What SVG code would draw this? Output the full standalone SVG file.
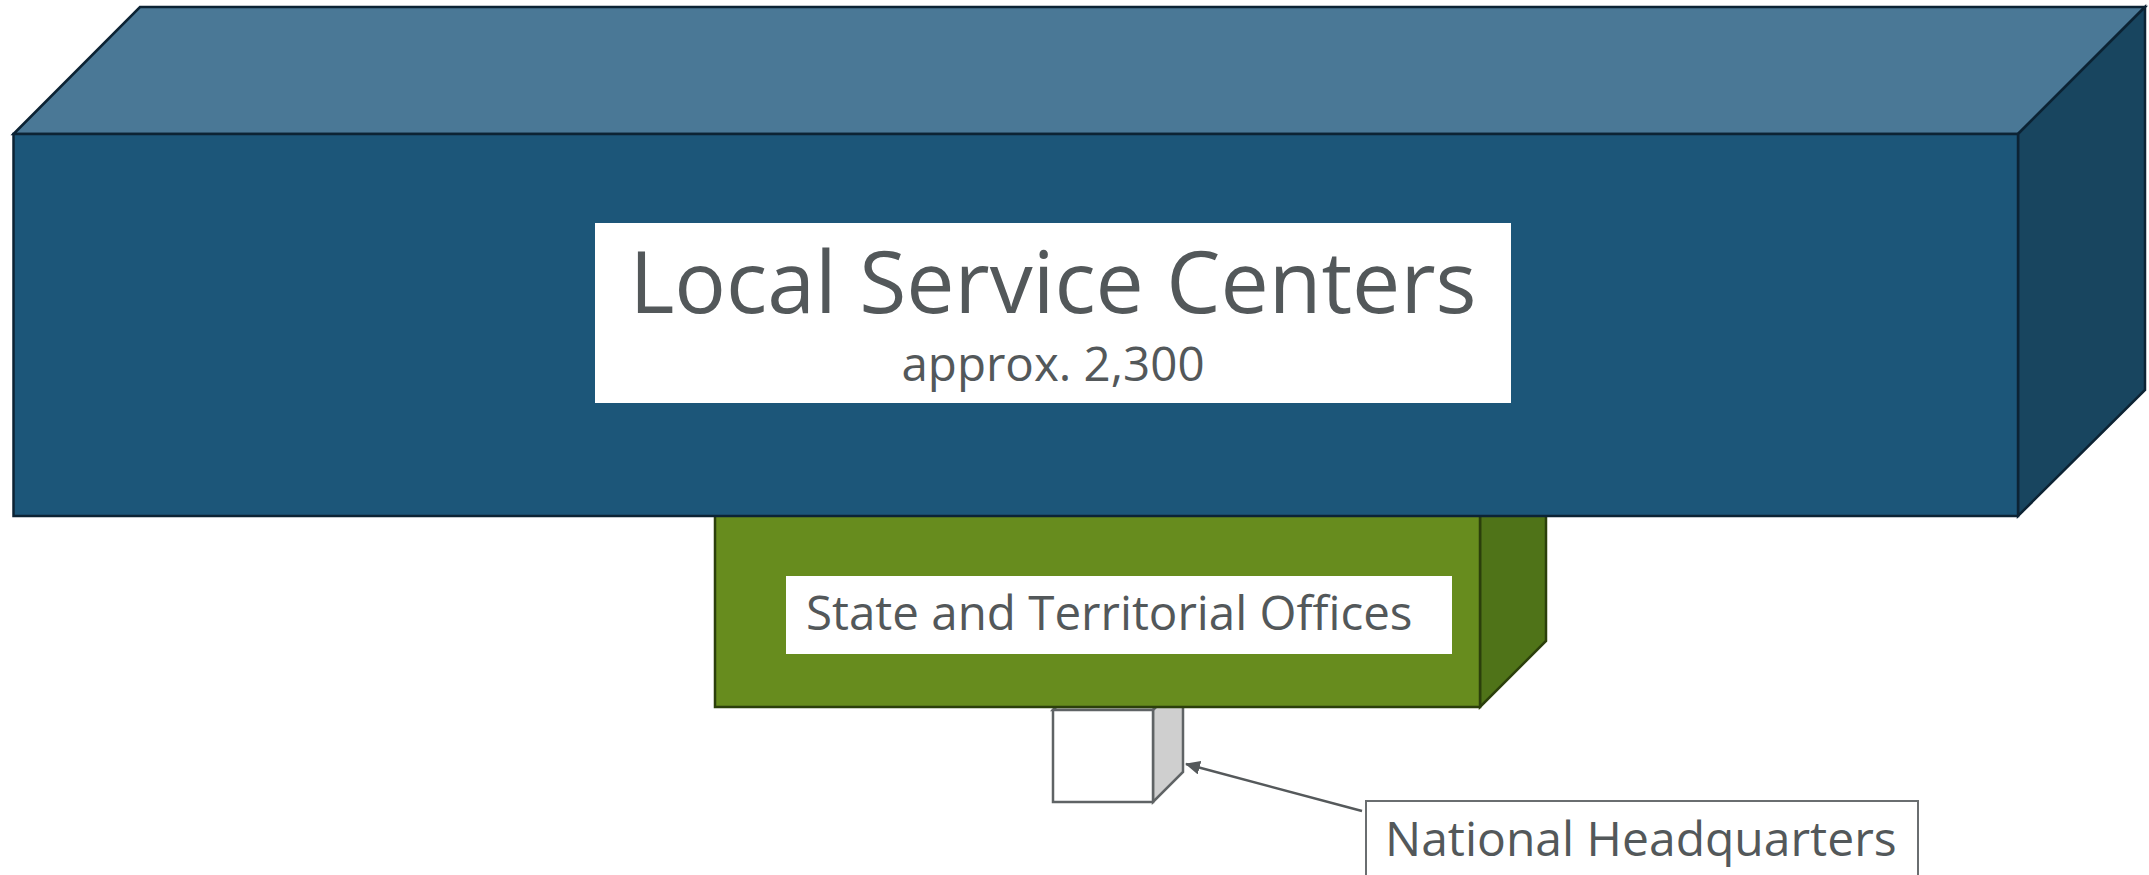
<svg xmlns="http://www.w3.org/2000/svg" width="2149" height="875" viewBox="0 0 2149 875">
  <style>
    .txt { font-family: "Open Sans", "Noto Sans", "Liberation Sans", sans-serif; fill: #53585a; }
    .blue { stroke: #0c2334; stroke-width: 2.5; stroke-linejoin: miter; }
    .green { stroke: #2b3f0b; stroke-width: 2.5; }
    .hq { stroke: #5f6365; stroke-width: 2.5; }
    .label { fill: #ffffff; stroke: none; }
    .conn { stroke: #55595b; stroke-width: 2.5; fill: none; }
  </style>
  <defs>
    <marker id="arrow" markerWidth="15" markerHeight="14" refX="14" refY="7" orient="auto" markerUnits="userSpaceOnUse" viewBox="0 0 15 14">
      <path d="M0,0 L15,7 L0,14 z" fill="#55595b"/>
    </marker>
  </defs>
  <rect width="2149" height="875" fill="#ffffff"/>

  <g id="national-headquarters">
    <polygon class="hq" points="1053,710 1083,680 1183,680 1153,710" fill="#e6e6e6"/>
    <polygon class="hq" points="1153,710 1183,680 1183,772 1153,802" fill="#cfcfcf"/>
    <rect class="hq" x="1053" y="710" width="100" height="92" fill="#ffffff"/>
  </g>

  <g id="state-territorial-offices">
    <polygon class="green" points="1480,450 1546,384 1546,641 1480,707" fill="#4f7318"/>
    <rect class="green" x="715" y="450" width="765" height="257" fill="#678c1e"/>
    <rect class="label" x="786" y="576" width="666" height="78"/>
    <text class="txt" x="806" y="630" font-size="47.5">State and Territorial Offices</text>
  </g>

  <g id="local-service-centers">
    <polygon class="blue" points="13.5,134 140,7 2145,7 2018,134" fill="#4a7896"/>
    <polygon class="blue" points="2018,134 2145,7 2145,390 2018,516" fill="#18455f"/>
    <rect class="blue" x="13.5" y="134" width="2004.5" height="382" fill="#1c5679"/>
    <rect class="label" x="595" y="223" width="916" height="180"/>
    <text class="txt" x="1053" y="312.5" font-size="86" text-anchor="middle">Local Service Centers</text>
    <text class="txt" x="1053" y="381" font-size="47.5" text-anchor="middle">approx. 2,300</text>
  </g>

  <g id="connectors">
    <line class="conn" x1="1362" y1="811" x2="1186" y2="764" marker-end="url(#arrow)"/>
  </g>

  <g id="national-headquarters-label">
    <rect x="1366" y="801" width="552" height="90" fill="#ffffff" stroke="#6a6e70" stroke-width="2"/>
    <text class="txt" x="1385" y="856" font-size="48">National Headquarters</text>
  </g>
</svg>
